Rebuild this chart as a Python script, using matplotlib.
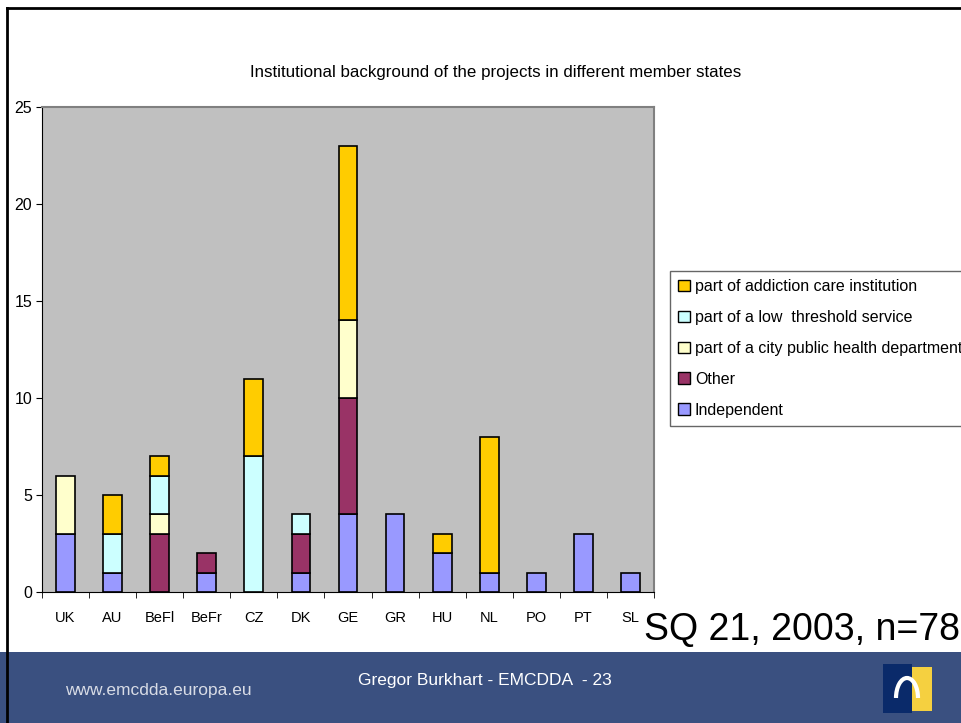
import numpy as np
import matplotlib.pyplot as plt
import matplotlib.patches as patches

plt.rcParams["font.family"] = ["Liberation Sans", "DejaVu Sans"]

countries = ["UK", "AU", "BeFl", "BeFr", "CZ", "DK", "GE", "GR", "HU", "NL", "PO", "PT", "SL"]
independent = [3, 1, 0, 1, 0, 1, 4, 4, 2, 1, 1, 3, 1]
other = [0, 0, 3, 1, 0, 2, 6, 0, 0, 0, 0, 0, 0]
city_health = [3, 0, 1, 0, 0, 0, 4, 0, 0, 0, 0, 0, 0]
low_threshold = [0, 2, 2, 0, 7, 1, 0, 0, 0, 0, 0, 0, 0]
addiction_care = [0, 2, 1, 0, 4, 0, 9, 0, 1, 7, 0, 0, 0]

series = [
    ("Independent", independent, "#9999FF"),
    ("Other", other, "#993366"),
    ("part of a city public health department", city_health, "#FFFFCC"),
    ("part of a low  threshold service", low_threshold, "#CCFFFF"),
    ("part of addiction care institution", addiction_care, "#FFCC00"),
]

W, H = 962, 723
fig = plt.figure(figsize=(W / 100, H / 100), dpi=100)
fig.patch.set_facecolor("white")

# plot area
ax = fig.add_axes([42 / W, 1 - 592 / H, (654 - 42) / W, (592 - 107) / H])
ax.set_facecolor("#C0C0C0")

x = np.arange(len(countries))
bottom = np.zeros(len(countries))
handles = []
for name, vals, color in series:
    vals = np.array(vals, dtype=float)
    bars = ax.bar(x, vals, width=0.4, bottom=bottom, color=color,
                  edgecolor="black", linewidth=1.2)
    # hide empty segments so no stray outline appears
    for b, v in zip(bars, vals):
        if v == 0:
            b.set_visible(False)
    handles.append(patches.Patch(facecolor=color, edgecolor="black", linewidth=1.0, label=name))
    bottom += vals

ax.set_xlim(-0.5, len(countries) - 0.5)
ax.set_ylim(0, 25)
ax.set_yticks(range(0, 26, 5))
ax.set_xticks(x)
ax.set_xticklabels(countries)
ax.set_xticks(np.arange(-0.5, len(countries), 1), minor=True)
ax.tick_params(axis="x", which="major", length=0, pad=14, labelsize=10.5)
ax.tick_params(axis="x", which="minor", length=4, direction="out", color="black")
ax.tick_params(axis="y", length=4, direction="out", labelsize=11.5, pad=3)
for side in ["top", "right"]:
    ax.spines[side].set_color("#808080")
    ax.spines[side].set_linewidth(1.5)
ax.spines["left"].set_color("black")
ax.spines["bottom"].set_color("black")

fig.text(496 / W, 1 - 73 / H, "Institutional background of the projects in different member states",
         ha="center", va="center", fontsize=12.2)

leg = fig.legend(handles[::-1], [s[0] for s in series][::-1],
                 loc="upper left", bbox_to_anchor=(670 / W, 1 - 271 / H),
                 fontsize=11.5, frameon=True, fancybox=False, edgecolor="#404040",
                 handlelength=0.75, handleheight=0.75, handletextpad=0.3,
                 labelspacing=1.0, borderpad=0.5, borderaxespad=0)
leg.get_frame().set_linewidth(1.0)

fig.text(960 / W, 1 - 630 / H, "SQ 21, 2003, n=78", ha="right", va="center", fontsize=27)

# footer band
fig.patches.append(patches.Rectangle((0, 0), 1, (H - 652) / H, transform=fig.transFigure,
                                     facecolor="#3A5080", edgecolor="none", zorder=0))
fig.text(65 / W, 1 - 690 / H, "www.emcdda.europa.eu", color="#D8DCE6",
         ha="left", va="center", fontsize=12.5)
fig.text(485 / W, 1 - 680 / H, "Gregor Burkhart - EMCDDA  - 23", color="white",
         ha="center", va="center", fontsize=12.5)

# logo
fig.patches.append(patches.Rectangle((883 / W, 1 - 713 / H), 29 / W, 49 / H, transform=fig.transFigure,
                                     facecolor="#0A2A6A", edgecolor="none", zorder=1))
fig.patches.append(patches.Rectangle((912 / W, 1 - 711 / H), 20 / W, 44 / H, transform=fig.transFigure,
                                     facecolor="#F5D040", edgecolor="none", zorder=1))
fig.patches.append(patches.Arc((907 / W, 1 - 698 / H), 22 / W, 40 / H, theta1=0, theta2=180,
                               transform=fig.transFigure, color="white", linewidth=3, zorder=2))

# slide border lines
fig.lines.append(plt.Line2D([7 / W, 7 / W], [0, 1 - 8 / H], transform=fig.transFigure,
                            color="black", linewidth=2))
fig.lines.append(plt.Line2D([7 / W, 1], [1 - 8 / H, 1 - 8 / H], transform=fig.transFigure,
                            color="black", linewidth=2))

fig.savefig("out.png", dpi=100)
